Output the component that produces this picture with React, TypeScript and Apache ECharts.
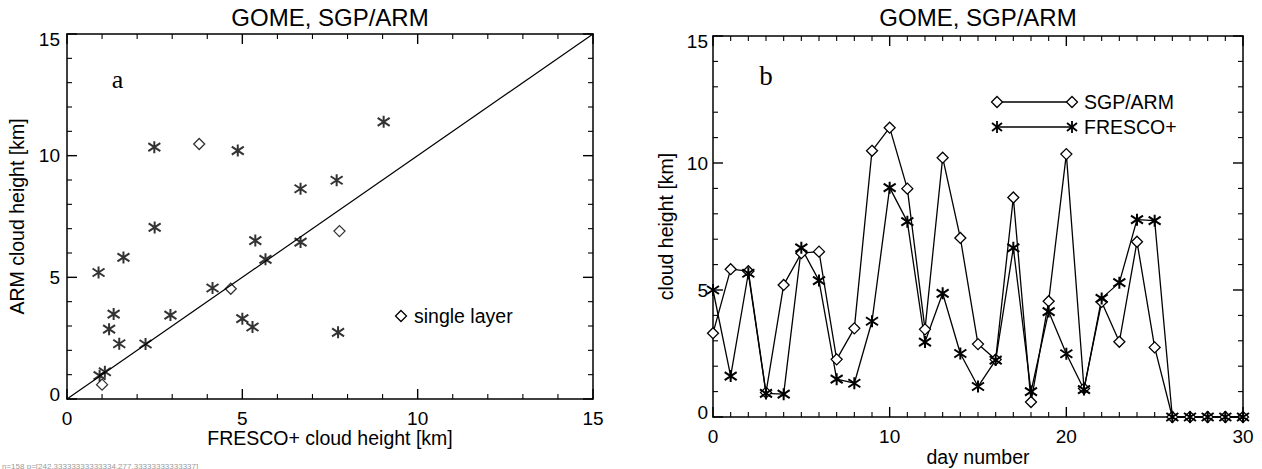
import React, { useEffect, useRef } from "react";
import * as echarts from "echarts";

// ---- data ----
const DAYS = [0, 1, 2, 3, 4, 5, 6, 7, 8, 9, 10, 11, 12, 13, 14, 15, 16, 17, 18, 19, 20, 21, 22, 23, 24, 25, 26, 27, 28, 29, 30];
const SGP_ARM = [3.3, 5.82, 5.74, 0.96, 5.2, 6.45, 6.51, 2.27, 3.49, 10.48, 11.39, 8.99, 3.45, 10.21, 7.05, 2.87, 2.26, 8.64, 0.59, 4.56, 10.35, 1.12, 4.53, 2.96, 6.9, 2.74, 0, 0, 0, 0, 0];
const FRESCO = [5.0, 1.61, 5.66, 0.93, 0.9, 6.66, 5.37, 1.49, 1.33, 3.77, 9.03, 7.69, 2.95, 4.87, 2.5, 1.2, 2.24, 6.66, 1.0, 4.15, 2.49, 1.08, 4.67, 5.29, 7.77, 7.73, 0, 0, 0, 0, 0];
const SINGLE_LAYER_DAYS = [9, 18, 22, 24];
const LAST_OBS_DAY = 25;
const DIAGONAL = [[0, 0], [15, 15]];

// tick values
const KM_MAJOR = [0, 5, 10, 15];
const KM_MINOR = [1, 2, 3, 4, 6, 7, 8, 9, 11, 12, 13, 14];
const DAY_MAJOR = [0, 10, 20, 30];
const DAY_MINOR = [1, 2, 3, 4, 5, 6, 7, 8, 9, 11, 12, 13, 14, 15, 16, 17, 18, 19, 21, 22, 23, 24, 25, 26, 27, 28, 29];

const TITLE = "GOME, SGP/ARM";
const FONT = "'Liberation Sans', Arial, Helvetica, sans-serif";
const SERIF = "'Liberation Serif', 'Times New Roman', serif";

const ASTERISK = "path://M6,0 L6,12 M1,2 L11,10 M1,10 L11,2";

const GRIDS = [
  { left: 67, top: 34, width: 526, height: 365 },
  { left: 713, top: 36, width: 530, height: 381 },
];

function axis(min: number, max: number, interval: number, showLabel: boolean, margin: number, vertical: boolean) {
  const label: any = { show: showLabel, color: "#000", fontSize: 19, fontFamily: FONT, margin };
  if (vertical) {
    label.formatter = (v: number) => (v === max ? `{t|${v}}` : v === min ? `{b|${v}}` : `${v}`);
    label.rich = {
      t: { fontSize: 19, fontFamily: FONT, color: "#000", padding: [10, 0, 0, 0] },
      b: { fontSize: 19, fontFamily: FONT, color: "#000", padding: [0, 0, 10, 0] },
    };
  }
  return {
    type: "value",
    min,
    max,
    interval,
    axisLine: { show: true, onZero: false, lineStyle: { color: "#000", width: 1.5 } },
    axisTick: { show: false },
    splitLine: { show: false },
    axisLabel: label,
  };
}

function diamondShape(cx: number, cy: number) {
  return {
    type: "polygon",
    shape: { points: [[cx, cy - 5.5], [cx + 5.5, cy], [cx, cy + 5.5], [cx - 5.5, cy]] },
    style: { fill: "#fff", stroke: "#000", lineWidth: 1.3 },
  };
}

function asteriskShape(cx: number, cy: number) {
  const st = { stroke: "#000", lineWidth: 1.8 };
  return {
    type: "group",
    children: [
      { type: "line", shape: { x1: cx, y1: cy - 6, x2: cx, y2: cy + 6 }, style: st },
      { type: "line", shape: { x1: cx - 5, y1: cy - 4, x2: cx + 5, y2: cy + 4 }, style: st },
      { type: "line", shape: { x1: cx - 5, y1: cy + 4, x2: cx + 5, y2: cy - 4 }, style: st },
    ],
  };
}

function txt(x: number, y: number, text: string, fontSize: number, family = FONT, rotation = 0, align = "center") {
  return {
    type: "text",
    x,
    y,
    rotation,
    style: { text, fontSize, fontFamily: family, fill: "#000", align, verticalAlign: "middle" },
  };
}

export default function App() {
  const ref = useRef<HTMLDivElement>(null);

  useEffect(() => {
    if (!ref.current) return;
    const chart = echarts.init(ref.current, undefined, { renderer: "svg" });

    const obsDays = DAYS.filter((d) => d <= LAST_OBS_DAY);
    const multi = obsDays.filter((d) => !SINGLE_LAYER_DAYS.includes(d)).map((d) => [FRESCO[d], SGP_ARM[d]]);
    const single = obsDays.filter((d) => SINGLE_LAYER_DAYS.includes(d)).map((d) => [FRESCO[d], SGP_ARM[d]]);

    const kmMin = KM_MAJOR[0], kmMax = KM_MAJOR[KM_MAJOR.length - 1];
    const dMin = DAY_MAJOR[0], dMax = DAY_MAJOR[DAY_MAJOR.length - 1];

    const lgX1 = 997, lgX2 = 1072, lgY1 = 102, lgY2 = 127;

    const baseGraphic: any[] = [
      txt(330, 17, TITLE, 24),
      txt(978, 17.5, TITLE, 24),
      txt(330, 438, "FRESCO+ cloud height [km]", 19.5),
      txt(17, 216.5, "ARM cloud height [km]", 19.5, FONT, Math.PI / 2),
      txt(978, 457, "day number", 19.5),
      txt(666, 226.5, "cloud height [km]", 19.5, FONT, Math.PI / 2),
      txt(117.5, 79, "a", 26, SERIF),
      txt(766, 76, "b", 27, SERIF),
      diamondShape(401, 316),
      txt(414, 316, "single layer", 19.5, FONT, 0, "left"),
      { type: "line", shape: { x1: lgX1, y1: lgY1, x2: lgX2, y2: lgY1 }, style: { stroke: "#000", lineWidth: 1.3 } },
      diamondShape(lgX1, lgY1),
      diamondShape(lgX2, lgY1),
      txt(1084, lgY1, "SGP/ARM", 19.5, FONT, 0, "left"),
      { type: "line", shape: { x1: lgX1, y1: lgY2, x2: lgX2, y2: lgY2 }, style: { stroke: "#000", lineWidth: 1.3 } },
      asteriskShape(lgX1, lgY2),
      asteriskShape(lgX2, lgY2),
      txt(1084, lgY2, "FRESCO+", 19.5, FONT, 0, "left"),
    ];

    chart.setOption({
      animation: false,
      backgroundColor: "#fff",
      grid: GRIDS,
      xAxis: [
        { ...axis(kmMin, kmMax, 5, true, 10, false), gridIndex: 0, position: "bottom" },
        { ...axis(kmMin, kmMax, 5, false, 10, false), gridIndex: 0, position: "top" },
        { ...axis(dMin, dMax, 10, true, 10, false), gridIndex: 1, position: "bottom" },
        { ...axis(dMin, dMax, 10, false, 10, false), gridIndex: 1, position: "top" },
      ],
      yAxis: [
        { ...axis(kmMin, kmMax, 5, true, 7, true), gridIndex: 0, position: "left" },
        { ...axis(kmMin, kmMax, 5, false, 7, true), gridIndex: 0, position: "right" },
        { ...axis(kmMin, kmMax, 5, true, 5, true), gridIndex: 1, position: "left" },
        { ...axis(kmMin, kmMax, 5, false, 5, true), gridIndex: 1, position: "right" },
      ],
      series: [
        {
          type: "line",
          xAxisIndex: 0,
          yAxisIndex: 0,
          data: DIAGONAL,
          symbol: "none",
          lineStyle: { color: "#000", width: 1.2 },
          silent: true,
        },
        {
          type: "scatter",
          xAxisIndex: 0,
          yAxisIndex: 0,
          data: multi,
          symbol: ASTERISK,
          symbolSize: 12,
          itemStyle: { color: "#000", borderColor: "#000", borderWidth: 2 },
        },
        {
          type: "scatter",
          xAxisIndex: 0,
          yAxisIndex: 0,
          data: single,
          symbol: "diamond",
          symbolSize: [11, 11],
          itemStyle: { color: "#fff", borderColor: "#000", borderWidth: 1.3 },
        },
        {
          type: "line",
          name: "SGP/ARM",
          xAxisIndex: 2,
          yAxisIndex: 2,
          data: DAYS.map((d) => [d, SGP_ARM[d]]),
          symbol: "diamond",
          symbolSize: [11, 11],
          showAllSymbol: true,
          itemStyle: { color: "#fff", borderColor: "#000", borderWidth: 1.3 },
          lineStyle: { color: "#000", width: 1.3 },
          clip: false,
        },
        {
          type: "line",
          name: "FRESCO+",
          xAxisIndex: 2,
          yAxisIndex: 2,
          data: DAYS.map((d) => [d, FRESCO[d]]),
          symbol: ASTERISK,
          symbolSize: 12,
          showAllSymbol: true,
          itemStyle: { color: "#000", borderColor: "#000", borderWidth: 2 },
          lineStyle: { color: "#000", width: 1.3 },
          clip: false,
        },
      ],
    });

    // inward ticks on all four sides, as thin filled rects
    const ticks: any[] = [];
    let dbg = "";
    const addTicks = (gi: number, xExt: number[], yExt: number[], xMaj: number[], xMin: number[], yMaj: number[], yMin: number[]) => {
      const g = GRIDS[gi];
      const px = (x: number, y: number): number[] => {
        let p: any = null;
        try {
          p = chart.convertToPixel({ gridIndex: gi } as any, [x, y]);
        } catch (e) {
          p = null;
        }
        if (!p || !isFinite(p[0]) || !isFinite(p[1])) {
          p = [
            g.left + ((x - xExt[0]) / (xExt[1] - xExt[0])) * g.width,
            g.top + g.height - ((y - yExt[0]) / (yExt[1] - yExt[0])) * g.height,
          ];
        }
        return [Number(p[0]), Number(p[1])];
      };
      if (gi === 0) dbg = JSON.stringify(px(5, 5));
      const xt = (v: number, len: number) => {
        const b = px(v, yExt[0]);
        const t = px(v, yExt[1]);
        const w = len > 6 ? 1.4 : 1.1;
        ticks.push({ type: "rect", z: 100, shape: { x: b[0] - w / 2, y: b[1] - len, width: w, height: len }, style: { fill: "#000" } });
        ticks.push({ type: "rect", z: 100, shape: { x: t[0] - w / 2, y: t[1], width: w, height: len }, style: { fill: "#000" } });
      };
      const yt = (v: number, len: number) => {
        const l = px(xExt[0], v);
        const r = px(xExt[1], v);
        const w = len > 6 ? 1.4 : 1.1;
        ticks.push({ type: "rect", z: 100, shape: { x: l[0], y: l[1] - w / 2, width: len, height: w }, style: { fill: "#000" } });
        ticks.push({ type: "rect", z: 100, shape: { x: r[0] - len, y: r[1] - w / 2, width: len, height: w }, style: { fill: "#000" } });
      };
      xMaj.forEach((v) => xt(v, 10));
      xMin.forEach((v) => xt(v, 5));
      yMaj.forEach((v) => yt(v, 10));
      yMin.forEach((v) => yt(v, 5));
    };
    addTicks(0, [kmMin, kmMax], [kmMin, kmMax], KM_MAJOR, KM_MINOR, KM_MAJOR, KM_MINOR);
    addTicks(1, [dMin, dMax], [kmMin, kmMax], DAY_MAJOR, DAY_MINOR, KM_MAJOR, KM_MINOR);

    const dbgText = { type: "text", x: 2, y: 462, style: { text: `n=${ticks.length} p=${dbg}`, fontSize: 8, fill: "#999" } };

    chart.setOption({ graphic: { elements: [...baseGraphic, dbgText, ...ticks] } });

    return () => chart.dispose();
  }, []);

  return (
    <div
      ref={ref}
      style={{ position: "absolute", left: 0, top: 0, width: 1262, height: 469, background: "#fff" }}
    />
  );
}
